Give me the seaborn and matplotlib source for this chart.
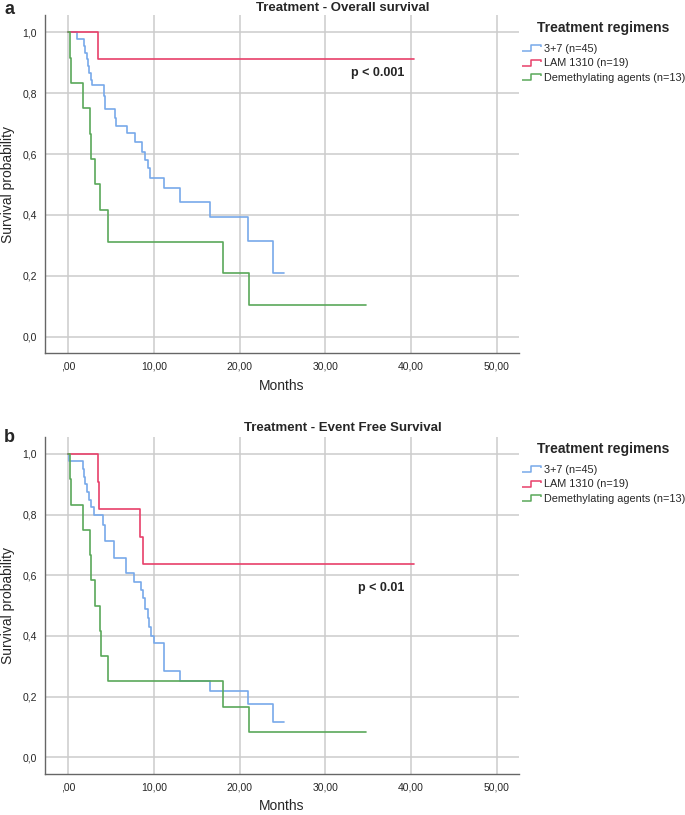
# plot.py - Kaplan-Meier style survival curves, two panels

import matplotlib
matplotlib.use("Agg")
import matplotlib.pyplot as plt
from matplotlib.lines import Line2D
from matplotlib.path import Path
import pandas as pd
import seaborn as sns

groups = ["3+7 (n=45)", "LAM 1310 (n=19)", "Demethylating agents (n=13)"]
colors = ["#78a9ea", "#e8406a", "#5aa85a"]

# panel a - overall survival (step times in months, survival after the step)
os_37_t = [0, 1.03, 1.81, 1.92, 2.19, 2.31, 2.47, 2.62, 2.78, 4.14, 4.34, 5.43, 5.6,
           6.87, 7.76, 8.62, 8.93, 9.32, 9.59, 11.14, 13.04, 16.55, 20.94, 23.93, 25.18]
os_37_s = [1.0, 0.978, 0.956, 0.933, 0.911, 0.889, 0.867, 0.844, 0.827, 0.79, 0.747, 0.72, 0.693,
           0.668, 0.639, 0.608, 0.581, 0.553, 0.521, 0.488, 0.441, 0.394, 0.314, 0.21, 0.21]
os_lam_t = [0, 3.48, 40.3]
os_lam_s = [1.0, 0.911, 0.911]
os_dem_t = [0, 0.2, 0.28, 1.69, 2.58, 2.7, 3.17, 3.67, 4.68, 18.1, 21.1, 34.8]
os_dem_s = [1.0, 0.917, 0.833, 0.75, 0.667, 0.583, 0.5, 0.417, 0.3125, 0.208, 0.104, 0.104]

# panel b - event free survival
efs_37_t = [0, 0.15, 1.69, 1.81, 2.0, 2.19, 2.39, 2.7, 3.05, 4.03, 4.26, 4.33, 5.31, 5.39, 6.79,
            7.64, 8.54, 8.69, 9.0, 9.31, 9.47, 9.7, 9.98, 11.18, 13.04, 16.55, 20.94, 23.86, 25.18]
efs_37_s = [1.0, 0.976, 0.95, 0.925, 0.901, 0.874, 0.847, 0.825, 0.797, 0.767, 0.74, 0.712, 0.686, 0.657, 0.606,
            0.578, 0.55, 0.524, 0.49, 0.458, 0.43, 0.40, 0.376, 0.283, 0.25, 0.219, 0.175, 0.116, 0.116]
efs_lam_t = [0, 3.48, 3.6, 8.42, 8.69, 40.3]
efs_lam_s = [1.0, 0.909, 0.818, 0.727, 0.636, 0.636]
efs_dem_t = [0, 0.2, 0.28, 1.69, 2.5, 2.66, 3.17, 3.75, 3.85, 4.68, 18.1, 21.1, 34.8]
efs_dem_s = [1.0, 0.917, 0.833, 0.75, 0.667, 0.583, 0.5, 0.417, 0.333, 0.25, 0.167, 0.083, 0.083]

x_ticks = [0, 10, 20, 30, 40, 50]
x_labels = [",00", "10,00", "20,00", "30,00", "40,00", "50,00"]
y_ticks = [0, 0.2, 0.4, 0.6, 0.8, 1.0]
y_labels = ["0,0", "0,2", "0,4", "0,6", "0,8", "1,0"]


def make_df(curves):
    rows = []
    for g, (t, s) in zip(groups, curves):
        for ti, si in zip(t, s):
            rows.append({"Months": ti, "surv": si, "group": g})
    return pd.DataFrame(rows)


sns.set_style("white")
plt.rcParams["font.family"] = ["Liberation Sans", "DejaVu Sans"]

fig = plt.figure(figsize=(6.85, 8.15), dpi=100)
ax_a = fig.add_axes([0.0657, 0.5665, 0.692, 0.415])
ax_b = fig.add_axes([0.0657, 0.0503, 0.692, 0.414])

# little step symbol like the SPSS legend
step = Path([(-1, -0.3), (-0.1, -0.3), (-0.1, 0.3), (0.9, 0.3), (0.9, 0.1)],
            [Path.MOVETO, Path.LINETO, Path.LINETO, Path.LINETO, Path.LINETO])


def draw_panel(ax, df, ptext, py):
    sns.lineplot(data=df, x="Months", y="surv", hue="group", hue_order=groups,
                 palette=colors, estimator=None, sort=False, drawstyle="steps-post",
                 linewidth=1.2, legend=False, ax=ax)
    ax.set_xlim(-2.7, 52.6)
    ax.set_ylim(-0.055, 1.057)
    ax.set_xticks(x_ticks)
    ax.set_xticklabels(x_labels)
    ax.set_yticks(y_ticks)
    ax.set_yticklabels(y_labels)
    ax.tick_params(length=0, labelsize=7.5, pad=6)
    ax.grid(True, color="#cccccc", linewidth=1.1)
    ax.set_axisbelow(True)
    for s in ["top", "right"]:
        ax.spines[s].set_visible(False)
    for s in ["left", "bottom"]:
        ax.spines[s].set_color("#666666")
        ax.spines[s].set_linewidth(1.0)
    ax.set_xlabel("Months", fontsize=10)
    ax.xaxis.set_label_coords(0.5, -0.075)
    ax.set_ylabel("Survival probability", fontsize=10)
    ax.yaxis.set_label_coords(-0.063, 0.5)
    ax.text(39.2, py, ptext, ha="right", va="center", fontsize=9, fontweight="bold")


draw_panel(ax_a, make_df([(os_37_t, os_37_s), (os_lam_t, os_lam_s), (os_dem_t, os_dem_s)]),
           "p < 0.001", 0.866)
draw_panel(ax_b, make_df([(efs_37_t, efs_37_s), (efs_lam_t, efs_lam_s), (efs_dem_t, efs_dem_s)]),
           "p < 0.01", 0.558)

fig.text(0.5, 1 - 8 / 815, "Treatment - Overall survival", ha="center", va="center",
         fontsize=9.5, fontweight="bold")
fig.text(0.5, 1 - 428 / 815, "Treatment - Event Free Survival", ha="center", va="center",
         fontsize=9.5, fontweight="bold")
fig.text(0.006, 1 - 10 / 815, "a", ha="left", va="center", fontsize=13, fontweight="bold")
fig.text(0.006, 1 - 437 / 815, "b", ha="left", va="center", fontsize=13, fontweight="bold")

handles = [Line2D([], [], color=c, linestyle="none", marker=step, markersize=14,
                  markerfacecolor="none", markeredgecolor=c, markeredgewidth=1.1)
           for c in colors]
for title_y, top in [(28, 44), (449, 465)]:
    fig.text(603 / 685, 1 - title_y / 815, "Treatment regimens", ha="center", va="center",
             fontsize=10, fontweight="bold")
    fig.legend(handles, groups, loc="upper left",
               bbox_to_anchor=(522 / 685, 1 - top / 815), frameon=False,
               borderpad=0, borderaxespad=0, handlelength=1.9, handletextpad=0.15,
               labelspacing=0.4, fontsize=7.8)

fig.savefig("out.png", dpi=100)
